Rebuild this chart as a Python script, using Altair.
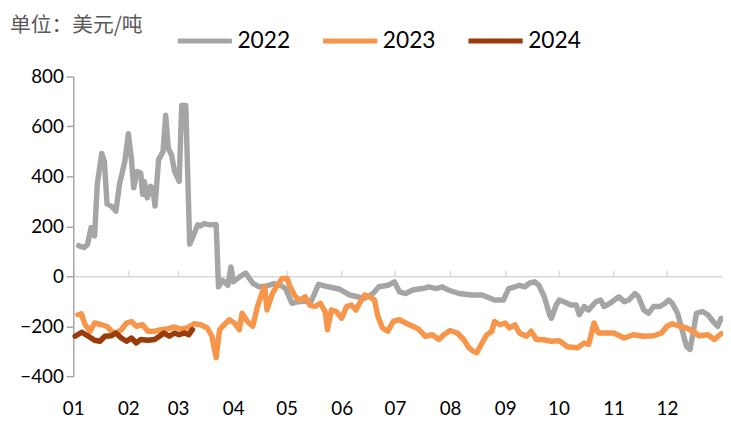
import altair as alt
import pandas as pd

years = ["2022", "2023", "2024"]
colors = ["#a5a5a5", "#f7964a", "#9b3a0a"]
month_labels = ["01", "02", "03", "04", "05", "06", "07", "08", "09", "10", "11", "12"]
month_starts = [0, 31, 59, 90, 120, 151, 181, 212, 243, 273, 304, 334]
y_ticks = [-400, -200, 0, 200, 400, 600, 800]

days_2022 = [3, 6, 8, 10, 12, 13.5, 16, 17.5, 19, 21.5, 24, 26, 29, 31, 32.7, 34, 36, 38, 39, 40,
             41.6, 43.5, 44.7, 46, 48, 50.5, 52, 53.5, 55.3, 57, 59.6, 61, 63.3, 65.5, 68, 70, 71.7,
             73.5, 77, 80.4, 81.7, 84, 87, 88.7, 90, 93.4, 97, 101, 104.6, 108, 113, 116.6, 119.4,
             123, 126, 134, 138, 143.5, 150, 155.6, 161, 164, 168.6, 172, 177, 180.7, 183.5, 187,
             191, 196.5, 200, 204, 207.6, 211, 217, 224, 230, 237, 242, 245, 248.5, 251, 254, 257,
             259.6, 262, 265, 268, 269, 271.7, 273.5, 276, 280, 283, 284.7, 287.5, 290, 294, 296.7,
             298.6, 302, 307, 310, 312.5, 316, 318, 321, 323.7, 326.5, 330, 333, 335, 337, 340, 342,
             345, 347, 348.7, 350.6, 354, 357, 360, 362.6, 364.5]
vals_2022 = [123, 115, 127, 195, 162, 368, 492, 460, 289, 281, 261, 368, 459, 571, 472, 354, 420, 413, 328, 380,
             314, 360, 354, 281, 467, 499, 645, 512, 486, 420, 380, 684, 684, 129, 170, 206, 202,
             211, 206, 208, -42, -16, -36, 37, -22, -3, 13, -28, -42, -40, -29, -36, -49,
             -108, -102, -98, -32, -42, -52, -75, -84, -88, -69, -42, -36, -22, -62, -69,
             -55, -49, -42, -49, -42, -55, -69, -75, -75, -95, -95, -49, -42, -36, -42, -26,
             -22, -36, -82, -154, -168, -115, -95, -102, -115, -115, -154, -121, -135, -102, -95,
             -121, -108, -82, -102, -95, -69, -82, -135, -148, -121, -121, -108, -95, -108, -148, -200,
             -280, -293, -227, -148, -141, -154, -181, -200, -168]

days_2023 = [2.6, 4.5, 6.7, 9.5, 12, 16, 18.8, 21.5, 24, 27, 30, 32.7, 35.5, 39, 42, 45.7, 49.4, 53, 57,
             60.5, 64, 68, 71.7, 75.4, 78, 79.3, 80.4, 82.3, 85, 87.8, 90.6, 93.4, 95, 98, 101, 103.6,
             106.4, 107.7, 109, 112, 114.8, 117.5, 120.3, 122, 125, 127.7, 130.5, 133, 136, 139, 141.7,
             143, 145.2, 148, 151, 153.8, 156.5, 159, 161, 164, 166.7, 169.5, 171.4, 174, 177, 180,
             183.5, 187, 191, 194.6, 198, 202, 205.7, 208.5, 212, 216, 219.7, 222.5, 225, 227, 230,
             232.7, 235.5, 237, 240, 243, 245.5, 248.5, 251, 255, 257.6, 260.6, 264, 269, 273.5, 278,
             283.7, 287.5, 290, 293, 295.4, 298.6, 304, 310, 315, 321, 326.5, 331, 334, 337, 341, 345,
             348.7, 352, 357, 360.7, 364.5]
vals_2023 = [-154, -150, -194, -220, -187, -194, -200, -220, -227, -214, -187, -181, -200, -194, -220, -220, -214, -211, -203,
             -211, -207, -190, -194, -207, -240, -290, -326, -214, -194, -174, -187, -214, -148, -181, -200, -121,
             -62, -42, -135, -69, -36, -9, -9, -42, -82, -95, -82, -115, -121, -108, -141,
             -214, -135, -141, -168, -121, -115, -135, -108, -75, -82, -95, -161, -207, -220, -181,
             -174, -187, -200, -214, -240, -234, -253, -234, -217, -227, -253, -286, -300, -306, -267,
             -234, -220, -181, -194, -187, -207, -194, -227, -240, -220, -253, -253, -260, -258, -282,
             -286, -267, -273, -187, -227, -227, -227, -247, -234, -240, -238, -227, -200, -190, -200, -207,
             -220, -238, -234, -253, -230]

days_2024 = [1, 4.8, 8.5, 12, 15, 17.8, 21.5, 24, 27, 30, 32.7, 35.5, 38, 42, 45.7, 48.5, 51, 54, 57,
             59.6, 62.4, 65, 67]
vals_2024 = [-240, -224, -240, -256, -260, -240, -238, -227, -247, -260, -247, -267, -253, -256, -253, -240,
             -227, -240, -227, -234, -227, -234, -214]

rows = []
for yr, ds, vs in [("2022", days_2022, vals_2022), ("2023", days_2023, vals_2023), ("2024", days_2024, vals_2024)]:
    for d, v in zip(ds, vs):
        rows.append({"year": yr, "day": d, "value": v})
df = pd.DataFrame(rows)

num_font = "Lato"
x_scale = alt.Scale(domain=[0, 365], nice=False, zero=False)
y_scale = alt.Scale(domain=[-400, 800], nice=False)

label_expr = "[" + ",".join("'" + m + "'" for m in month_labels) + "][indexof([" + \
    ",".join(str(s) for s in month_starts) + "], datum.value)]"

lines = alt.Chart(df).mark_line(strokeWidth=5.5, strokeCap="round", strokeJoin="round").encode(
    x=alt.X("day:Q", scale=x_scale,
            axis=alt.Axis(orient="top", offset=-202, labels=False, title=None, grid=False,
                          values=month_starts, domainColor="#d9d9d9", domainWidth=1.5,
                          tickColor="#d9d9d9", tickWidth=1.5, tickSize=6)),
    y=alt.Y("value:Q", scale=y_scale,
            axis=alt.Axis(values=y_ticks, title=None, grid=False, domainColor="#a6a6a6", domainWidth=1.5,
                          tickColor="#a6a6a6", tickWidth=1.5, tickSize=7, labelFont=num_font,
                          labelFontSize=19, labelColor="#000000", labelPadding=3)),
    color=alt.Color("year:N", scale=alt.Scale(domain=years, range=colors),
                    legend=alt.Legend(orient="none", legendX=103, legendY=-66, direction="horizontal",
                                      title=None, symbolType="stroke", symbolSize=3000,
                                      symbolStrokeWidth=5, labelFont=num_font, labelFontSize=23,
                                      labelColor="#000000", labelOffset=3, columnPadding=22)),
)

label_df = pd.DataFrame({"day": month_starts, "label": month_labels})
month_axis = alt.Chart(label_df).mark_point(opacity=0).encode(
    x=alt.X("day:Q", scale=x_scale,
            axis=alt.Axis(orient="bottom", values=month_starts, labelExpr=label_expr, domain=False,
                          ticks=False, tickSize=0, title=None, grid=False, labelFont=num_font,
                          labelFlush=False, labelFontSize=19, labelColor="#000000", labelPadding=24)),
)

chart = alt.layer(lines, month_axis).resolve_axis(x="independent").properties(
    width=656, height=303,
    autosize=alt.AutoSizeParams(type="none"),
    padding={"left": 66, "top": 67, "right": 1, "bottom": 40},
    title=alt.Title("单位：美元/吨", anchor="start", frame="group", fontSize=21,
                    font="Noto Sans CJK SC", fontWeight="normal", color="#595959", dx=-64, offset=-25),
).configure_view(stroke=None)

chart.save("out.html", embed_options={"renderer": "svg", "actions": False})
